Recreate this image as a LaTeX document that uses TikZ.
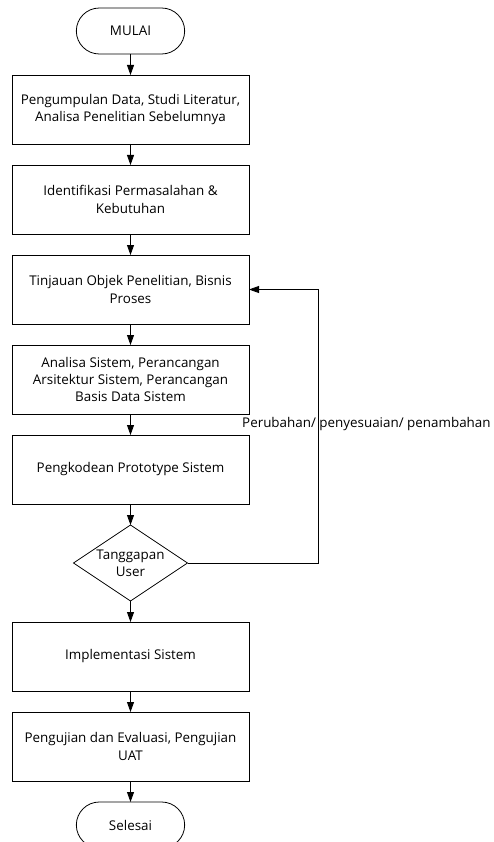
\documentclass[tikz,border=0pt]{standalone}
\usepackage{fontspec}
\setmainfont{Open Sans}
\usetikzlibrary{positioning,shapes.geometric,shapes.misc,arrows.meta}

\tikzset{
  proses/.style={draw, thick, rectangle, minimum width=237pt, minimum height=69pt, align=center, inner sep=2pt, outer sep=0pt},
  terminal/.style={draw, thick, rounded rectangle, minimum width=115pt, minimum height=46pt, outer sep=0pt},
  keputusan/.style={draw, thick, diamond, minimum width=114pt, minimum height=76pt, inner sep=0pt, outer sep=0pt},
  panah/.style={thick, -{Triangle[length=10pt,width=7pt]}}
}

\begin{document}
\begin{tikzpicture}[x=1pt, y=1pt, node distance=21pt,
  font=\fontsize{13.4}{17.3}\selectfont]
			\useasboundingbox (0,0) rectangle (493,-842);

			% Start
			\node[terminal] (mulai) at (130.5,-31) {MULAI};

			% Steps
			\node[proses, below=of mulai] (kumpul) {Pengumpulan Data, Studi Literatur,\\Analisa Penelitian Sebelumnya};
			\node[proses, below=of kumpul] (identif) {Identifikasi Permasalahan \&\\Kebutuhan};
			\node[proses, below=of identif] (tinjau) {Tinjauan Objek Penelitian, Bisnis\\Proses};
			\node[proses, below=of tinjau] (analisa) {Analisa Sistem, Perancangan\\Arsitektur Sistem, Perancangan\\Basis Data Sistem};
			\node[proses, below=of analisa] (kode) {Pengkodean Prototype Sistem};

			% Decision
			\node[keputusan, below=of kode, label={[align=center]center:Tanggapan\\User}] (tanggap) {};

			\node[proses, below=of tanggap] (implement) {Implementasi Sistem};
			\node[proses, below=of implement] (uji) {Pengujian dan Evaluasi, Pengujian\\UAT};

			% End
			\node[terminal, below=of uji] (selesai) {Selesai};

			% Arrows between steps
			\foreach \a/\b in {mulai/kumpul,kumpul/identif,identif/tinjau,tinjau/analisa,analisa/kode,kode/tanggap,tanggap/implement,implement/uji,uji/selesai}
			\draw[panah] (\a) -- (\b);

			% Feedback loop
			\coordinate (balik) at ([xshift=131pt]tanggap.east);
			\draw[panah] (tanggap.east) -- (balik) |- (tinjau.east);
			\node[anchor=west, inner sep=0pt] (ubah) at (242,-424) {Perubahan/ penyesuaian/ penambahan};
		\end{tikzpicture}
\end{document}
